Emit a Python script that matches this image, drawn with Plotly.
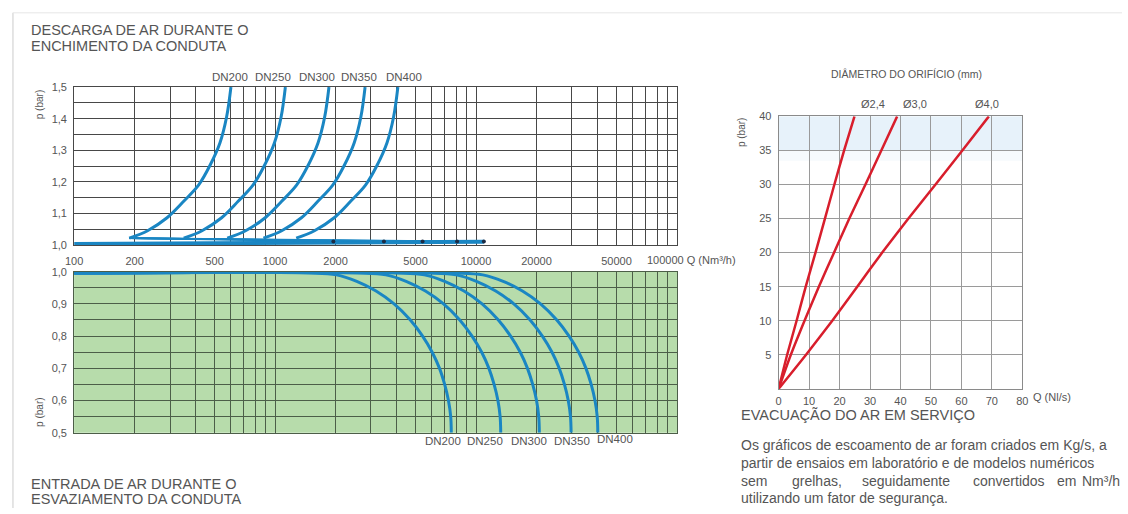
import plotly.graph_objects as go

W, H = 1128, 514

# ---------------- data ----------------
dn_labels = ["DN200", "DN250", "DN300", "DN350", "DN400"]

# top chart: discharge during filling  (p in bar, Q in Nm3/h)
fill_p = [1.0225, 1.046, 1.087, 1.139, 1.19, 1.252, 1.324, 1.406, 1.5]
fill_q_dn200 = [188, 232, 290, 351, 416, 474, 532, 574, 603]
fill_q_dn250 = [351, 433, 542, 655, 776, 885, 993, 1072, 1125]
fill_q_dn300 = [578, 713, 893, 1079, 1279, 1459, 1637, 1766, 1854]
fill_q_dn350 = [875, 1079, 1352, 1633, 1936, 2208, 2477, 2673, 2805]
fill_q_dn400 = [1274, 1570, 1968, 2377, 2818, 3214, 3606, 3890, 4083]

# low-pressure branches ending in dots
dot_q = [1950, 3480, 5420, 8050, 10940]
dot_p = [1.012, 1.012, 1.012, 1.012, 1.012]
branch_start_q = 188
branch_start_p = 1.0225
base_q = [100, 10940]
base_p = [1.004, 1.011]

# bottom chart: air intake during emptying
empty_p = [0.996, 0.996, 0.99, 0.97, 0.94, 0.90, 0.85, 0.80, 0.75, 0.70, 0.65, 0.60, 0.55, 0.50]
empty_q_dn200 = [100, 1460, 2020, 2550, 3180, 3910, 4710, 5420, 6050, 6580, 6980, 7290, 7480, 7530]
empty_q_dn250 = [100, 2560, 3560, 4490, 5600, 6890, 8300, 9550, 10670, 11590, 12300, 12850, 13180, 13270]
empty_q_dn300 = [100, 3990, 5530, 6980, 8710, 10720, 12910, 14860, 16600, 18030, 19140, 20000, 20510, 20650]
empty_q_dn350 = [100, 5740, 7960, 10050, 12530, 15420, 18580, 21380, 23880, 25940, 27540, 28770, 29510, 29720]
empty_q_dn400 = [100, 7800, 10810, 13650, 17020, 20940, 25230, 29040, 32430, 35240, 37410, 39080, 40090, 40360]

# right chart: evacuation in service (p in bar, Q in Nl/s)
orifice_labels = ["Ø2,4", "Ø3,0", "Ø4,0"]
orifice_p = [0, 5, 10, 15, 20, 25, 30, 35, 40]
orifice_q_24 = [0, 2.8, 5.9, 8.9, 12.1, 15.2, 18.3, 21.5, 24.9]
orifice_q_30 = [0, 4.0, 8.5, 13.2, 18.2, 23.2, 28.5, 33.7, 38.9]
orifice_q_40 = [0, 9.0, 17.6, 25.8, 34.0, 42.6, 51.5, 60.3, 69.0]

# tick labels
q_tick_vals = [100, 200, 500, 1000, 2000, 5000, 10000, 20000, 50000, 100000]
q_tick_labels = ["100", "200", "500", "1000", "2000", "5000", "10000", "20000", "50000", "100000"]
p_top_vals = [1.0, 1.1, 1.2, 1.3, 1.4, 1.5]
p_top_labels = ["1,0", "1,1", "1,2", "1,3", "1,4", "1,5"]
p_bot_vals = [0.5, 0.6, 0.7, 0.8, 0.9, 1.0]
p_bot_labels = ["0,5", "0,6", "0,7", "0,8", "0,9", "1,0"]
orifice_p_ticks = [5, 10, 15, 20, 25, 30, 35, 40]
orifice_q_ticks = [0, 10, 20, 30, 40, 50, 60, 70, 80]

# ---------------- styling ----------------
BLUE = "#1a86c3"
RED = "#d81e2c"
TXT = "#555555"
FONT = "Liberation Sans, Arial, sans-serif"
GRID_DARK = "#484848"
GRID_GREEN = "#4c5e48"


def px(x):
    return x / W


def py(y):
    return 1 - y / H


LX0, LX1 = px(66), px(677)
TOP_Y = [py(245), py(83)]
BOT_Y = [py(437), py(272)]
RX = [px(780), px(1027)]
RY = [py(392), py(113)]

fig = go.Figure()

fill_sets = [fill_q_dn200, fill_q_dn250, fill_q_dn300, fill_q_dn350, fill_q_dn400]
empty_sets = [empty_q_dn200, empty_q_dn250, empty_q_dn300, empty_q_dn350, empty_q_dn400]

# top chart baseline and branches
fig.add_trace(go.Scatter(x=base_q, y=base_p, mode="lines",
                         line=dict(color=BLUE, width=4), xaxis="x", yaxis="y",
                         showlegend=False, hoverinfo="skip"))
for i, dn in enumerate(dn_labels):
    fig.add_trace(go.Scatter(x=[branch_start_q, dot_q[i]], y=[branch_start_p, dot_p[i]],
                             mode="lines", line=dict(color=BLUE, width=1.6),
                             xaxis="x", yaxis="y", showlegend=False, hoverinfo="skip"))
for i, dn in enumerate(dn_labels):
    fig.add_trace(go.Scatter(x=fill_sets[i], y=fill_p, mode="lines", name=dn,
                             line=dict(color=BLUE, width=3, shape="spline", smoothing=1.0),
                             xaxis="x", yaxis="y", showlegend=False))
fig.add_trace(go.Scatter(x=dot_q, y=dot_p, mode="markers",
                         marker=dict(color="#1c2b44", size=4),
                         xaxis="x", yaxis="y", showlegend=False, hoverinfo="skip"))

# bottom chart curves
for i, dn in enumerate(dn_labels):
    fig.add_trace(go.Scatter(x=empty_sets[i], y=empty_p, mode="lines", name=dn,
                             line=dict(color=BLUE, width=3, shape="spline", smoothing=1.0),
                             xaxis="x2", yaxis="y2", showlegend=False))

# right chart lines
for lab, qs in zip(orifice_labels, [orifice_q_24, orifice_q_30, orifice_q_40]):
    fig.add_trace(go.Scatter(x=qs, y=orifice_p, mode="lines", name=lab,
                             line=dict(color=RED, width=2.5, shape="spline", smoothing=0.6),
                             xaxis="x3", yaxis="y3", showlegend=False))

# grid values for log axes (gridlines at 1..9 x 10^n)
grid_vals = []
for dec in [100, 1000, 10000]:
    for m in range(1, 10):
        grid_vals.append(dec * m)
grid_vals.append(100000)
grid_text_top = [q_tick_labels[q_tick_vals.index(v)] if v in q_tick_vals and v != 100000 else ""
                 for v in grid_vals]

p_top_grid = [round(1.0 + 0.05 * k, 2) for k in range(11)]
p_top_text = [p_top_labels[p_top_vals.index(v)] if v in p_top_vals else "" for v in p_top_grid]
p_bot_grid = [round(0.5 + 0.05 * k, 2) for k in range(11)]
p_bot_text = [p_bot_labels[p_bot_vals.index(v)] if v in p_bot_vals else "" for v in p_bot_grid]

tickfont = dict(family=FONT, size=11, color=TXT)

fig.update_layout(
    width=W, height=H,
    margin=dict(l=0, r=0, t=0, b=0),
    paper_bgcolor="white", plot_bgcolor="rgba(0,0,0,0)",
    font=dict(family=FONT, color=TXT),
    xaxis=dict(type="log", range=[2, 5], domain=[LX0, LX1], anchor="y",
               tickvals=grid_vals, ticktext=grid_text_top, tickfont=tickfont,
               showgrid=True, gridcolor=GRID_DARK, gridwidth=1,
               showline=True, linecolor=GRID_DARK, linewidth=1, mirror=True,
               ticks="", ticklabelstandoff=6, zeroline=False),
    yaxis=dict(range=[1.0, 1.5], domain=TOP_Y, anchor="x",
               tickvals=p_top_grid, ticktext=p_top_text, tickfont=tickfont,
               showgrid=True, gridcolor=GRID_DARK, gridwidth=1,
               showline=True, linecolor=GRID_DARK, linewidth=1, mirror=True,
               ticks="", ticklabelstandoff=4, zeroline=False),
    xaxis2=dict(type="log", range=[2, 5], domain=[LX0, LX1], anchor="y2",
                tickvals=grid_vals, showticklabels=False,
                showgrid=True, gridcolor=GRID_GREEN, gridwidth=1,
                showline=True, linecolor=GRID_GREEN, linewidth=1, mirror=True,
                ticks="", zeroline=False),
    yaxis2=dict(range=[0.5, 1.0], domain=BOT_Y, anchor="x2",
                tickvals=p_bot_grid, ticktext=p_bot_text, tickfont=tickfont,
                showgrid=True, gridcolor=GRID_GREEN, gridwidth=1,
                showline=True, linecolor=GRID_GREEN, linewidth=1, mirror=True,
                ticks="", ticklabelstandoff=4, zeroline=False),
    xaxis3=dict(range=[0, 80], domain=RX, anchor="y3",
                tickvals=orifice_q_ticks, tickfont=tickfont,
                showgrid=True, gridcolor="#9a9a9a", gridwidth=1,
                showline=True, linecolor="#8a8a8a", linewidth=1, mirror=True,
                ticks="", ticklabelstandoff=2, zeroline=False),
    yaxis3=dict(range=[0, 40], domain=RY, anchor="x3",
                tickvals=orifice_p_ticks, tickfont=tickfont,
                showgrid=True, gridcolor="#9a9a9a", gridwidth=1,
                showline=True, linecolor="#8a8a8a", linewidth=1, mirror=True,
                ticks="", ticklabelstandoff=4, zeroline=False),
)

shapes = [
    dict(type="rect", xref="x2 domain", yref="y2 domain", x0=0, x1=1, y0=0, y1=1,
         fillcolor="#b7dcab", line=dict(width=0), layer="below"),
    dict(type="rect", xref="x3 domain", yref="y3", x0=0, x1=1, y0=35, y1=40,
         fillcolor="#e7f2fa", line=dict(width=0), layer="below"),
    dict(type="rect", xref="x3 domain", yref="y3", x0=0, x1=1, y0=33.5, y1=35,
         fillcolor="#f6fafd", line=dict(width=0), layer="below"),
    dict(type="line", xref="paper", yref="paper", x0=px(4), x1=px(4), y0=0, y1=py(7),
         line=dict(color="#dddddd", width=1.5)),
    dict(type="line", xref="paper", yref="paper", x0=px(4), x1=1, y0=py(7), y1=py(7),
         line=dict(color="#e6e6e6", width=1)),
]
fig.update_layout(shapes=shapes)

anns = []


def add_text(text, x, y, size, xanchor="left", angle=0, color=TXT):
    anns.append(dict(text=text, x=px(x), y=py(y), xref="paper", yref="paper",
                     xanchor=xanchor, yanchor="middle", showarrow=False,
                     textangle=angle, font=dict(family=FONT, size=size, color=color)))


add_text("DESCARGA DE AR DURANTE O", 20, 25, 14.5)
add_text("ENCHIMENTO DA CONDUTA", 20, 41, 14.5)
add_text("ENTRADA DE AR DURANTE O", 20, 489, 14.5)
add_text("ESVAZIAMENTO DA CONDUTA", 20, 505, 14.5)

for lab, x in zip(dn_labels, [224, 268, 312, 355, 400]):
    add_text(lab, x, 73, 11.5, xanchor="center")
for lab, x, y in zip(dn_labels, [440, 482, 527, 571, 614], [445, 445, 445, 445, 443]):
    add_text(lab, x, y, 11.5, xanchor="center")

add_text("p (bar)", 31, 101, 10, xanchor="center", angle=-90)
add_text("p (bar)", 31, 416, 10, xanchor="center", angle=-90)
add_text(q_tick_labels[-1] + " Q (Nm³/h)", 645, 260, 11)

add_text("DIÂMETRO DO ORIFÍCIO (mm)", 910, 70, 10.5, xanchor="center")
for lab, x in zip(orifice_labels, [876, 918, 991]):
    add_text(lab, x, 100, 11, xanchor="center")
add_text("p (bar)", 743, 130, 10, xanchor="center", angle=-90)
add_text("Q (Nl/s)", 1036, 400, 11)
add_text("EVACUAÇÃO DO AR EM SERVIÇO", 740, 419, 14.5)

add_text("Os gráficos de escoamento de ar foram criados em Kg/s, a", 740, 450, 14)
add_text("partir de ensaios em laboratório e de modelos numéricos", 740, 468, 14)
for word, x in zip(["sem", "grelhas,", "seguidamente", "convertidos", "em", "Nm³/h"],
                   [740, 792, 862, 975, 1060, 1085]):
    add_text(word, x, 486, 14)
add_text("utilizando um fator de segurança.", 740, 504, 14)

fig.update_layout(annotations=anns)

fig.write_html(
    "out.html",
    config={"displayModeBar": False},
    post_script="document.body.style.margin='0';document.body.style.padding='0';"
                "document.documentElement.style.overflow='hidden';",
)
